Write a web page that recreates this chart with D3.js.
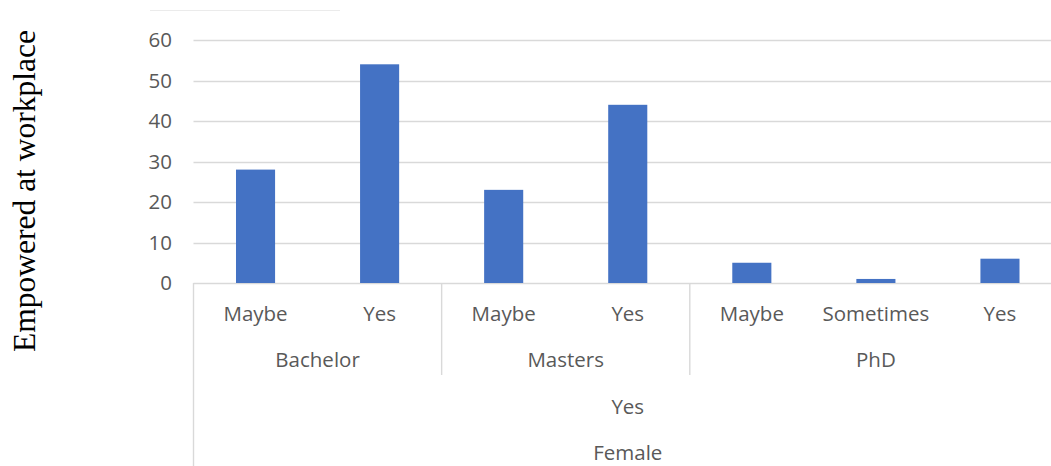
<!DOCTYPE html>
<html><head><meta charset="utf-8">
<script src="https://cdn.jsdelivr.net/npm/d3@7"></script>
<style>body{margin:0;background:#fff}svg{display:block}</style>
</head><body>
<svg id="c" width="1051" height="466"></svg>
<script>
const categories = ["Maybe","Yes","Maybe","Yes","Maybe","Sometimes","Yes"];
const groups = [{name:"Bachelor",start:0,end:2},{name:"Masters",start:2,end:4},{name:"PhD",start:4,end:7}];
const level3 = ["Yes"];
const level4 = ["Female"];
const values = [28,54,23,44,5,1,6];
const yTicks = [0,10,20,30,40,50,60];
const yTitle = "Empowered at workplace";

(function(){
const svg = d3.select("#c");
const pLeft = 193.5, pRight = 1062, pTop = 40, pBottom = 283;
const idx = d3.range(categories.length);
const xOuter = d3.scaleBand().domain(idx).range([pLeft,pRight]).padding(0);
const x = d3.scaleBand().domain(idx).range([pLeft,pRight]).paddingInner(0.685).paddingOuter(0.3425);
const y = d3.scaleLinear().domain([0,60]).range([pBottom,pTop]);
const grid = "#d9d9d9", txt = "#595959", font = "'Open Sans', 'Noto Sans', sans-serif";
const fs = "20.5px";

svg.append("line").attr("x1",150).attr("x2",340).attr("y1",10.5).attr("y2",10.5).attr("stroke","#ebebeb");

svg.append("g").selectAll("line").data(yTicks).join("line")
  .attr("x1",pLeft).attr("x2",1051).attr("y1",d=>Math.round(y(d))+0.5).attr("y2",d=>Math.round(y(d))+0.5)
  .attr("stroke",grid).attr("stroke-width",1.4);

svg.append("g").selectAll("text").data(yTicks).join("text")
  .attr("x",172).attr("y",d=>y(d)).attr("dy","0.35em").attr("text-anchor","end")
  .attr("fill",txt).style("font",`${fs} ${font}`).text(d=>d);

svg.append("g").selectAll("rect").data(values).join("rect")
  .attr("x",(d,i)=>x(i)).attr("width",x.bandwidth())
  .attr("y",d=>y(d)).attr("height",d=>y(0)-y(d)).attr("fill","#4472c4");

const ax = svg.append("g").attr("stroke",grid).attr("stroke-width",1.4);
ax.append("line").attr("x1",pLeft).attr("x2",pLeft).attr("y1",pBottom).attr("y2",466);
groups.forEach(g=>{
  const xe = xOuter(g.end-1)+xOuter.step();
  ax.append("line").attr("x1",xe).attr("x2",xe).attr("y1",pBottom).attr("y2",375);
});

svg.append("g").selectAll("text").data(categories).join("text")
  .attr("x",(d,i)=>xOuter(i)+xOuter.step()/2).attr("y",321).attr("text-anchor","middle")
  .attr("fill",txt).style("font",`${fs} ${font}`).text(d=>d);
svg.append("g").selectAll("text").data(groups).join("text")
  .attr("x",g=>(xOuter(g.start)+xOuter(g.end-1)+xOuter.step())/2).attr("y",367).attr("text-anchor","middle")
  .attr("fill",txt).style("font",`${fs} ${font}`).text(g=>g.name);
svg.append("text").attr("x",(pLeft+pRight)/2).attr("y",414).attr("text-anchor","middle")
  .attr("fill",txt).style("font",`${fs} ${font}`).text(level3[0]);
svg.append("text").attr("x",(pLeft+pRight)/2).attr("y",460).attr("text-anchor","middle")
  .attr("fill",txt).style("font",`${fs} ${font}`).text(level4[0]);

svg.append("text").attr("transform","translate(35,191) rotate(-90)").attr("text-anchor","middle")
  .attr("fill","#000").style("font","31.5px 'Liberation Serif', 'Times New Roman', serif").text(yTitle);
})();
</script>
</body></html>
